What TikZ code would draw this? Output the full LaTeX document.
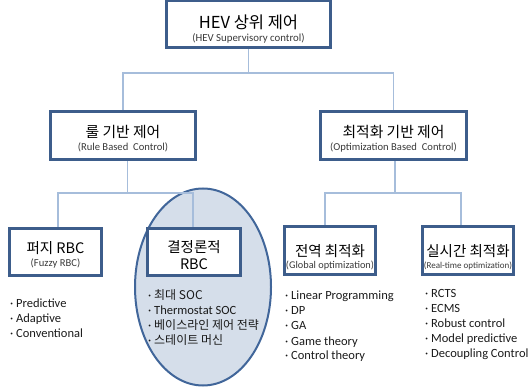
\documentclass[tikz,border=0pt]{standalone}
\usepackage{fontspec}
\setmainfont{Carlito}
\newfontfamily\kr{Noto Sans CJK KR}
\usetikzlibrary{shapes.geometric}
\definecolor{boxc}{HTML}{3D5D8B}
\definecolor{connc}{HTML}{A6BDDB}
\definecolor{ellfill}{HTML}{D5DEEA}
\definecolor{ellc}{HTML}{41669A}
\definecolor{subc}{HTML}{3A3A3A}
\definecolor{itemc}{HTML}{1A1A1A}
\newcommand{\krs}{\kr\fontsize{12}{15}\selectfont}
\begin{document}
\begin{tikzpicture}[x=1pt,y=-1pt,
  box/.style={draw=boxc, line width=2pt, fill=white, inner sep=0pt},
  conn/.style={draw=connc, line width=1.3pt},
  ttl/.style={font=\kr\fontsize{14.8}{16}\selectfont, inner sep=0pt, text=black},
  sub/.style={font=\fontsize{10.6}{12}\selectfont, text=subc, inner sep=0pt},
  item/.style={anchor=base west, inner sep=0pt, font=\fontsize{12.5}{15}\selectfont, text=itemc}]
\useasboundingbox (0,0) rectangle (532,387);

% ellipse behind deterministic RBC
\node[ellipse, draw=ellc, line width=2pt, fill=ellfill, inner sep=0pt,
      minimum width=136pt, minimum height=197pt] (ell) at (203,287) {};

% boxes
\node[box, minimum width=163pt, minimum height=46pt] (top) at (248.5,24.5) {};
\node[box, minimum width=144pt, minimum height=47pt] (rule) at (123,136) {};
\node[box, minimum width=145pt, minimum height=47pt] (opt) at (393.5,136) {};
\node[box, minimum width=91pt, minimum height=46pt] (fz) at (55.5,252) {};
\node[box, minimum width=92pt, minimum height=46pt] (det) at (194,252) {};
\node[box, minimum width=90pt, minimum height=47pt] (glob) at (330,250.5) {};
\node[box, minimum width=90pt, minimum height=47pt] (rt) at (468,250.5) {};

% connectors
\coordinate (b1) at (248.5,73);
\draw[conn] (top.south) -- (b1) -| (rule.north);
\draw[conn] (b1) -| (opt.north);
\coordinate (b2) at (127.5,193);
\draw[conn] ([xshift=4.5pt]rule.south) -- (b2);
\draw[conn] (b2) -| ([xshift=2.5pt]fz.north);
\draw[conn] (b2) -| ([xshift=-1pt]det.north);
\coordinate (b3) at (395,193);
\draw[conn] ([xshift=1.5pt]opt.south) -- (b3);
\draw[conn] (b3) -| ([xshift=-5pt]glob.north);
\draw[conn] (b3) -| ([xshift=-7pt]rt.north);

% redraw boxes over connector ends
\foreach \n in {top,rule,opt,fz,det,glob,rt}
  \draw[boxc, line width=2pt] (\n.north west) rectangle (\n.south east);

% titles
\node[ttl, font=\kr\fontsize{16.5}{18}\selectfont] (topt) at (248.5,22) {HEV 상위 제어};
\node[sub, font=\fontsize{10.8}{12}\selectfont] (tops) at (248.5,38.5) {(HEV Supervisory control)};
\node[ttl] (rulet) at (123,132) {룰 기반 제어};
\node[sub] (rules) at (123,147.5) {(Rule Based\ \ Control)};
\node[ttl] (optt) at (393.5,132) {최적화 기반 제어};
\node[sub] (opts) at (393.5,147.5) {(Optimization Based\ \ Control)};
\node[ttl, font=\kr\fontsize{14.5}{16}\selectfont] (fzt) at (55.5,248) {퍼지 RBC};
\node[sub] (fzs) at (55.5,263) {(Fuzzy RBC)};
\node[ttl, font=\kr\fontsize{14.5}{16}\selectfont] (dett) at (194,247) {결정론적};
\node[ttl, font=\kr\fontsize{14.5}{16}\selectfont] (dets) at (194,264) {RBC};
\node[ttl, font=\kr\fontsize{14.5}{16}\selectfont] (globt) at (330,251) {전역 최적화};
\node[sub, font=\fontsize{10.3}{12}\selectfont] (globs) at (330,266) {(Global optimization)};
\node[ttl, font=\kr\fontsize{14.5}{16}\selectfont] (rtt) at (468,251) {실시간 최적화};
\node[sub, font=\fontsize{9}{11}\selectfont] (rts) at (468,266) {(Real-time optimization)};

% lists
\node[item] (fz1) at (10,307.5) {· Predictive};
\node[item] (fz2) at (10,322.5) {· Adaptive};
\node[item] (fz3) at (10,337.5) {· Conventional};

\node[item] (d1) at (148,299.5) {· {\krs 최대 SOC}};
\node[item] (d2) at (148,314.5) {· Thermostat SOC};
\node[item] (d3) at (148,329.5) {· {\krs 베이스라인 제어 전략}};
\node[item] (d4) at (148,344.5) {· {\krs 스테이트 머신}};

\node[item] (g1) at (285,299.5) {· Linear Programming};
\node[item] (g2) at (285,314.5) {· DP};
\node[item] (g3) at (285,329.5) {· GA};
\node[item] (g4) at (285,345) {· Game theory};
\node[item] (g5) at (285,359.5) {· Control theory};

\node[item] (r1) at (425,297.5) {· RCTS};
\node[item] (r2) at (425,312.5) {· ECMS};
\node[item] (r3) at (425,327.5) {· Robust control};
\node[item] (r4) at (425,342.5) {· Model predictive};
\node[item] (r5) at (425,357.5) {· Decoupling Control};
\end{tikzpicture}
\end{document}
